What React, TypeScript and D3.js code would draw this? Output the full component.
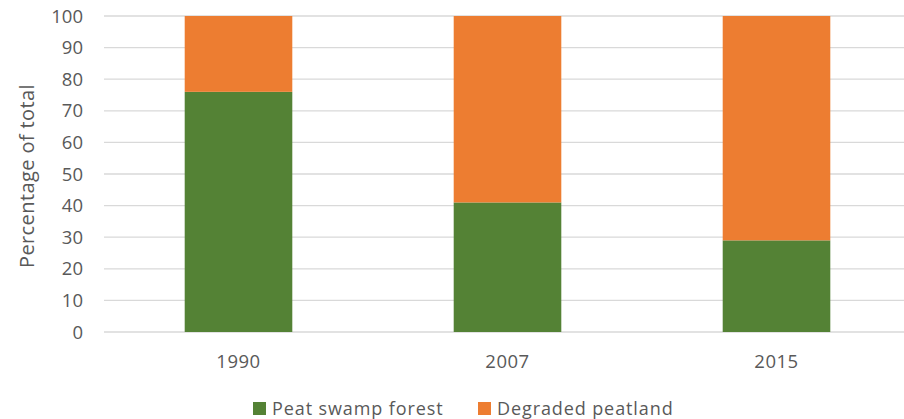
import React from "react";
import * as d3 from "d3";

const categories = ["1990", "2007", "2015"];
const peatSwampForest = [76, 41, 29];
const degradedPeatland = [24, 59, 71];
const seriesNames = ["Peat swamp forest", "Degraded peatland"];
const seriesColors = ["#548235", "#ED7D31"];
const yTicks = [0, 10, 20, 30, 40, 50, 60, 70, 80, 90, 100];

const W = 904;
const H = 419;
const FONT = "'Open Sans', sans-serif";

export default function App() {
  const x = d3.scaleBand<string>().domain(categories).range([104, 911]).paddingInner(0.6).paddingOuter(0.3);
  const y = d3.scaleLinear().domain([0, 100]).range([332, 16]);
  const rows = categories.map((c, i) => ({ c, a: peatSwampForest[i], b: degradedPeatland[i] }));
  return (
    <svg width={W} height={H} style={{ position: "absolute", left: 0, top: 0, background: "#fff" }}>
      {yTicks.map((t) => (
        <g key={t}>
          <line x1={104} x2={W} y1={y(t)} y2={y(t)} stroke="#d9d9d9" strokeWidth={1.3} />
          <text x={83} y={y(t)} dy="0.36em" textAnchor="end" fontSize={18.5} fill="#595959" fontFamily={FONT}>{t}</text>
        </g>
      ))}
      {rows.map((r) => (
        <g key={r.c}>
          <rect x={x(r.c)} width={x.bandwidth()} y={y(r.a)} height={y(0) - y(r.a)} fill={seriesColors[0]} />
          <rect x={x(r.c)} width={x.bandwidth()} y={y(r.a + r.b)} height={y(r.a) - y(r.a + r.b)} fill={seriesColors[1]} />
          <text x={(x(r.c) as number) + x.bandwidth() / 2} y={368} textAnchor="middle" fontSize={18.5} letterSpacing={0.5} fill="#595959" fontFamily={FONT}>{r.c}</text>
        </g>
      ))}
      <text transform={`translate(34,${(y(0) + y(100)) / 2 + 2}) rotate(-90)`} textAnchor="middle" fontSize={20} letterSpacing={0.4} fill="#595959" fontFamily={FONT}>Percentage of total</text>
      <rect x={253} y={402} width={13} height={13} fill={seriesColors[0]} />
      <text x={272} y={415} fontSize={18} letterSpacing={0.9} fill="#595959" fontFamily={FONT}>{seriesNames[0]}</text>
      <rect x={478} y={402} width={13} height={13} fill={seriesColors[1]} />
      <text x={497} y={415} fontSize={18} letterSpacing={0.9} fill="#595959" fontFamily={FONT}>{seriesNames[1]}</text>
    </svg>
  );
}
